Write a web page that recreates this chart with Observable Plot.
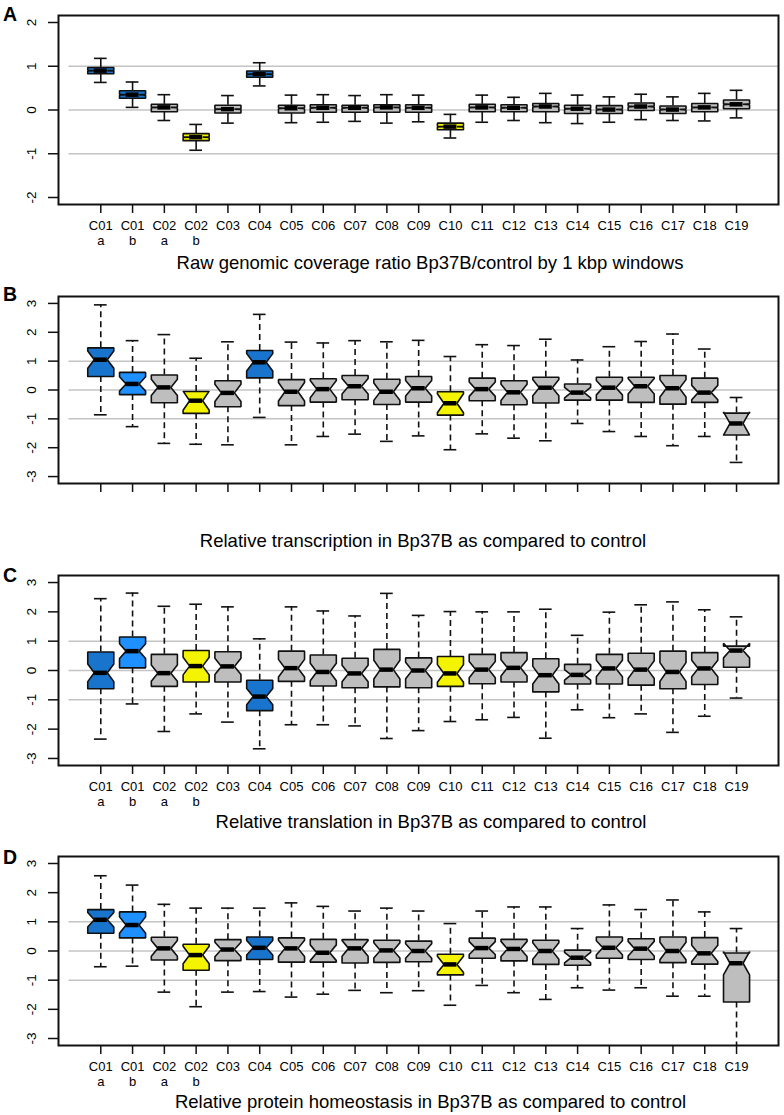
<!DOCTYPE html>
<html><head><meta charset="utf-8">
<script src="https://cdn.jsdelivr.net/npm/d3@7"></script>
<script src="https://cdn.jsdelivr.net/npm/@observablehq/plot@0.6"></script>
<style>
body{margin:0;background:#fff;}
#wrap{position:relative;width:784px;height:1115px;font-family:"Liberation Sans",Arial,Helvetica,sans-serif;color:#000;overflow:hidden;}
.panel{position:absolute;left:0;}
.letter{position:absolute;left:3px;font-weight:bold;font-size:19.5px;line-height:20px;}
.title{position:absolute;font-size:18.5px;line-height:22px;white-space:nowrap;transform:translateX(-50%);}
</style></head><body><div id="wrap"></div>
<script>
// Categories (x tick labels)
const categories = ["C01\na","C01\nb","C02\na","C02\nb","C03","C04","C05","C06","C07","C08","C09","C10","C11","C12","C13","C14","C15","C16","C17","C18","C19"];

// Fill colours per box
const colA = ["dodgerblue3","dodgerblue3","gray","yellow","gray","dodgerblue3","gray","gray","gray","gray","gray","yellow","gray","gray","gray","gray","gray","gray","gray","gray","gray"];
const colBCD = ["dodgerblue3","dodgerblue","gray","yellow","gray","dodgerblue3","gray","gray","gray","gray","gray","yellow","gray","gray","gray","gray","gray","gray","gray","gray","gray"];
const palette = {dodgerblue3: "#1874CD", dodgerblue: "#1E90FF", yellow: "#F4F400", gray: "#BEBEBE"};

// Panel A: raw genomic coverage ratio
const A_hi    = [1.18, 0.64, 0.35,-0.33, 0.33, 1.08, 0.34, 0.35, 0.33, 0.35, 0.34,-0.10, 0.34, 0.29, 0.38, 0.34, 0.30, 0.36, 0.30, 0.38, 0.45];
const A_q3    = [0.97, 0.44, 0.13,-0.54, 0.11, 0.89, 0.11, 0.12, 0.11, 0.12, 0.12,-0.30, 0.13, 0.12, 0.15, 0.11, 0.10, 0.16, 0.09, 0.15, 0.23];
const A_med   = [0.90, 0.35, 0.06,-0.62, 0.02, 0.82, 0.04, 0.05, 0.05, 0.06, 0.05,-0.38, 0.06, 0.05, 0.08, 0.03, 0.01, 0.08, 0.01, 0.06, 0.13];
const A_q1    = [0.83, 0.27,-0.04,-0.70,-0.07, 0.75,-0.07,-0.05,-0.05,-0.05,-0.05,-0.45,-0.04,-0.04,-0.04,-0.08,-0.08,-0.01,-0.08,-0.04, 0.03];
const A_lo    = [0.63, 0.06,-0.24,-0.92,-0.30, 0.55,-0.29,-0.28,-0.26,-0.30,-0.27,-0.64,-0.28,-0.24,-0.29,-0.31,-0.28,-0.22,-0.24,-0.25,-0.18];
const A_notch = [0.01, 0.01, 0.01, 0.01, 0.01, 0.01, 0.01, 0.01, 0.01, 0.01, 0.01, 0.01, 0.01, 0.01, 0.01, 0.01, 0.01, 0.01, 0.01, 0.01, 0.01];

// Panel B: relative transcription
const B_hi    = [2.95, 1.71, 1.92, 1.10, 1.67, 2.62, 1.66, 1.63, 1.71, 1.67, 1.72, 1.16, 1.57, 1.54, 1.76, 1.04, 1.50, 1.68, 1.94, 1.42,-0.26];
const B_q3    = [1.46, 0.61, 0.52,-0.05, 0.32, 1.37, 0.36, 0.39, 0.50, 0.37, 0.47,-0.06, 0.41, 0.32, 0.44, 0.21, 0.44, 0.44, 0.50, 0.41,-0.80];
const B_med   = [1.05, 0.21, 0.09,-0.37,-0.10, 0.96,-0.06, 0.03, 0.13,-0.06, 0.06,-0.46, 0.03,-0.08, 0.08,-0.09, 0.08, 0.13, 0.06,-0.09,-1.16];
const B_q1    = [0.47,-0.16,-0.44,-0.81,-0.58, 0.42,-0.54,-0.42,-0.34,-0.50,-0.42,-0.87,-0.37,-0.51,-0.45,-0.35,-0.35,-0.43,-0.49,-0.43,-1.56];
const B_lo    = [-0.86,-1.27,-1.85,-1.88,-1.90,-0.95,-1.90,-1.61,-1.53,-1.78,-1.59,-2.07,-1.52,-1.67,-1.76,-1.16,-1.44,-1.61,-1.93,-1.61,-2.51];
const B_notch = [0.30, 0.25, 0.28, 0.33, 0.30, 0.30, 0.32, 0.30, 0.27, 0.30, 0.27, 0.33, 0.25, 0.28, 0.28, 0.18, 0.25, 0.27, 0.30, 0.25, 0.40];

// Panel C: relative translation
const C_hi    = [2.45, 2.64, 2.19, 2.26, 2.17, 1.08, 2.17, 2.03, 1.86, 2.63, 1.88, 2.01, 2.00, 2.00, 2.09, 1.20, 1.99, 2.24, 2.34, 2.07, 1.83];
const C_q3    = [0.63, 1.14, 0.55, 0.68, 0.64,-0.33, 0.66, 0.53, 0.42, 0.72, 0.43, 0.48, 0.55, 0.61, 0.40, 0.21, 0.55, 0.59, 0.66, 0.61, 0.83];
const C_med   = [-0.08, 0.66,-0.09, 0.15, 0.14,-0.89, 0.08,-0.05,-0.10, 0.03, 0.00,-0.10, 0.03, 0.09,-0.16,-0.15, 0.07, 0.03,-0.05, 0.07, 0.68];
const C_q1    = [-0.62, 0.09,-0.54,-0.39,-0.39,-1.37,-0.37,-0.53,-0.59,-0.56,-0.59,-0.54,-0.45,-0.39,-0.73,-0.46,-0.46,-0.50,-0.62,-0.48, 0.11];
const C_lo    = [-2.34,-1.14,-2.08,-1.48,-1.76,-2.67,-1.85,-1.85,-1.89,-2.32,-2.05,-1.74,-1.68,-1.60,-2.31,-1.34,-1.61,-1.48,-2.11,-1.56,-0.94];
const C_notch = [0.30, 0.25, 0.28, 0.30, 0.28, 0.28, 0.30, 0.30, 0.28, 0.32, 0.28, 0.30, 0.28, 0.28, 0.30, 0.18, 0.28, 0.30, 0.32, 0.28, 0.25];

// Panel D: relative protein homeostasis
const D_hi    = [2.58, 2.26, 1.60, 1.47, 1.47, 1.47, 1.65, 1.53, 1.37, 1.47, 1.37, 0.94, 1.37, 1.51, 1.51, 0.77, 1.58, 1.42, 1.75, 1.34, 0.77];
const D_q3    = [1.42, 1.34, 0.47, 0.23, 0.39, 0.48, 0.45, 0.40, 0.39, 0.37, 0.34,-0.11, 0.44, 0.40, 0.37, 0.03, 0.48, 0.42, 0.48, 0.46,-0.07];
const D_med   = [1.07, 0.89, 0.09,-0.14, 0.05, 0.11, 0.09,-0.06, 0.09, 0.02, 0.00,-0.46, 0.10, 0.07, 0.00,-0.23, 0.11, 0.08, 0.00,-0.08,-0.42];
const D_q1    = [0.61, 0.45,-0.31,-0.66,-0.33,-0.29,-0.38,-0.38,-0.41,-0.39,-0.37,-0.82,-0.25,-0.34,-0.46,-0.49,-0.25,-0.29,-0.40,-0.45,-1.75];
const D_lo    = [-0.54,-0.52,-1.41,-1.91,-1.41,-1.39,-1.58,-1.48,-1.35,-1.43,-1.36,-1.86,-1.18,-1.43,-1.66,-1.26,-1.34,-1.26,-1.55,-1.55,-3.60];
const D_notch = [0.25, 0.28, 0.27, 0.30, 0.25, 0.25, 0.28, 0.27, 0.27, 0.26, 0.25, 0.28, 0.22, 0.26, 0.28, 0.18, 0.24, 0.25, 0.30, 0.28, 0.40];

const gridValues = [-1, 0, 1];
const ticksA = [-2, -1, 0, 1, 2];
const ticksBCD = [-3, -2, -1, 0, 1, 2, 3];

const panels = [
  {letter: "A", title: "Raw genomic coverage ratio Bp37B/control by 1 kbp windows",
   hi: A_hi, q3: A_q3, med: A_med, q1: A_q1, lo: A_lo, notch: A_notch, col: colA,
   yTicks: ticksA, yMax: 2.16, labels: true, dashed: false,
   frameTop: 15, frameH: 189, letterY: 14, titleX: 430, titleY: 263},
  {letter: "B", title: "Relative transcription in Bp37B as compared to control",
   hi: B_hi, q3: B_q3, med: B_med, q1: B_q1, lo: B_lo, notch: B_notch, col: colBCD,
   yTicks: ticksBCD, yMax: 3.24, labels: false, dashed: true,
   frameTop: 296, frameH: 187, letterY: 294, titleX: 423, titleY: 541},
  {letter: "C", title: "Relative translation in Bp37B as compared to control",
   hi: C_hi, q3: C_q3, med: C_med, q1: C_q1, lo: C_lo, notch: C_notch, col: colBCD,
   yTicks: ticksBCD, yMax: 3.24, labels: true, dashed: true,
   frameTop: 574.5, frameH: 190, letterY: 575, titleX: 431, titleY: 821.5},
  {letter: "D", title: "Relative protein homeostasis in Bp37B as compared to control",
   hi: D_hi, q3: D_q3, med: D_med, q1: D_q1, lo: D_lo, notch: D_notch, col: colBCD,
   yTicks: ticksBCD, yMax: 3.24, labels: true, dashed: true,
   frameTop: 855.5, frameH: 189, letterY: 857, titleX: 430.5, titleY: 1101.5}
];

const wrap = document.getElementById("wrap");
const W = 0.41;       // box half width (x units)
const STAPLE = 0.2;   // staple half width
const xIdx = categories.map((_, k) => k + 1);

for (const p of panels) {
  const boxes = categories.map((c, k) => ({
    i: k + 1, hi: p.hi[k], q3: p.q3[k], med: p.med[k], q1: p.q1[k], lo: p.lo[k],
    c1: p.med[k] - p.notch[k], c2: p.med[k] + p.notch[k], color: palette[p.col[k]]
  }));
  const poly = boxes.flatMap(d => [
    [d.i - W, d.q1], [d.i + W, d.q1], [d.i + W, d.c1], [d.i + W / 2, d.med], [d.i + W, d.c2],
    [d.i + W, d.q3], [d.i - W, d.q3], [d.i - W, d.c2], [d.i - W / 2, d.med], [d.i - W, d.c1], [d.i - W, d.q1]
  ].map(([x, y]) => ({x, y, i: d.i, color: d.color})));

  const mt = 10, mb = 60;
  const dash = p.dashed ? "6,4" : null;
  const marks = [
    Plot.ruleY(gridValues, {y: d => d, x1: 0, x2: 22.32, stroke: "#c4c4c4", strokeWidth: 1.5}),
    Plot.ruleX(boxes, {x: "i", y1: "q3", y2: "hi", stroke: "#111", strokeWidth: 1.6, strokeDasharray: dash, clip: true}),
    Plot.ruleX(boxes, {x: "i", y1: "q1", y2: "lo", stroke: "#111", strokeWidth: 1.6, strokeDasharray: dash, clip: true}),
    Plot.ruleY(boxes, {y: "hi", x1: d => d.i - STAPLE, x2: d => d.i + STAPLE, stroke: "#111", strokeWidth: 1.6, clip: true}),
    Plot.ruleY(boxes, {y: "lo", x1: d => d.i - STAPLE, x2: d => d.i + STAPLE, stroke: "#111", strokeWidth: 1.6, clip: true}),
    Plot.line(poly, {x: "x", y: "y", z: "i", fill: "color", stroke: "#111", strokeWidth: 1.6, curve: "linear", strokeLinejoin: "miter"}),
    Plot.ruleY(boxes, {y: "med", x1: d => d.i - W / 2, x2: d => d.i + W / 2, stroke: "#000", strokeWidth: 4.5}),
    Plot.frame({stroke: "#111", strokeWidth: 2}),
    Plot.axisY({ticks: p.yTicks, tickSize: 10, tickFormat: () => "", stroke: "#111", strokeWidth: 1.5, label: null}),
    Plot.text(p.yTicks, {y: d => d, text: d => String(d), frameAnchor: "left", dx: -26.5, rotate: -90,
      fontSize: 13.5, textAnchor: "middle", lineAnchor: "middle", fill: "#000"}),
    Plot.axisX({ticks: xIdx, tickSize: 9, tickFormat: () => "", stroke: "#111", strokeWidth: 1.5, label: null})
  ];
  if (p.labels) {
    marks.push(Plot.text(xIdx, {x: d => d, text: d => categories[d - 1], frameAnchor: "bottom", dy: 14.3,
      lineAnchor: "top", fontSize: 13, lineHeight: 1.19, fill: "#000"}));
  }
  const svg = Plot.plot({
    width: 784, height: mt + p.frameH + mb,
    marginLeft: 58, marginRight: 6, marginTop: mt, marginBottom: mb,
    style: {fontFamily: "'Liberation Sans', Arial, Helvetica, sans-serif", background: "transparent", overflow: "visible"},
    x: {domain: [-0.33, 22.32], axis: null},
    y: {domain: [-p.yMax, p.yMax], axis: null},
    color: {type: "identity"},
    marks
  });
  svg.classList.add("panel");
  svg.style.top = (p.frameTop - mt) + "px";
  wrap.appendChild(svg);

  const L = document.createElement("div");
  L.className = "letter";
  L.textContent = p.letter;
  L.style.top = (p.letterY - 9.8) + "px";
  wrap.appendChild(L);

  const T = document.createElement("div");
  T.className = "title";
  T.textContent = p.title;
  T.style.left = p.titleX + "px";
  T.style.top = (p.titleY - 10.8) + "px";
  wrap.appendChild(T);
}
</script>
</body></html>
